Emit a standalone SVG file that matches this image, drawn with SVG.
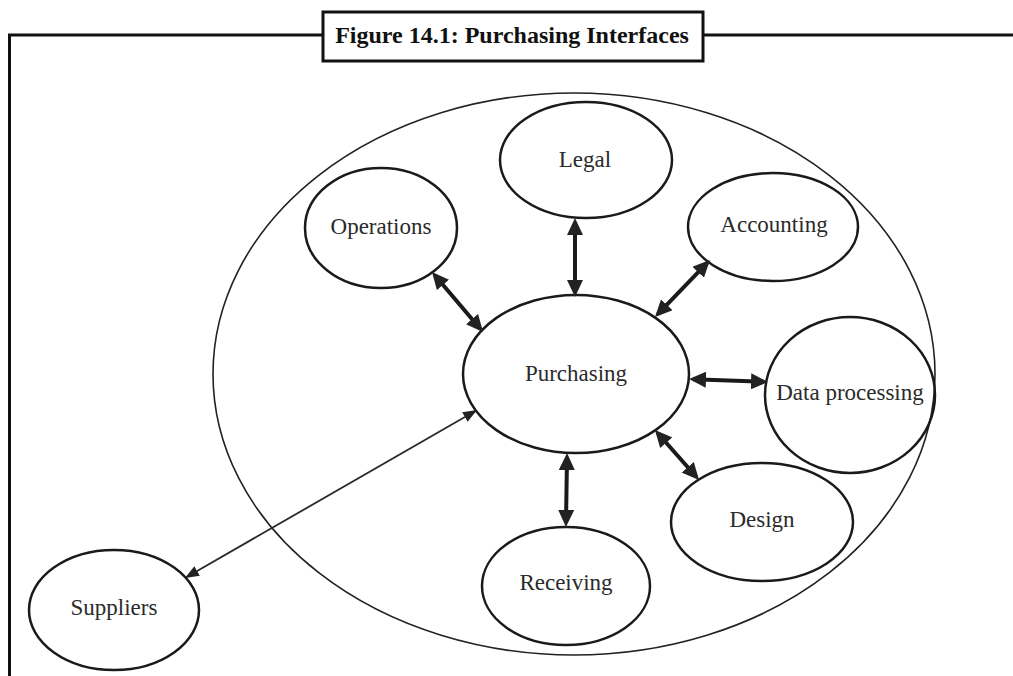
<svg xmlns="http://www.w3.org/2000/svg" width="1013" height="676" viewBox="0 0 1013 676">
<style>
.node{fill:none;stroke:#1a1a1a;stroke-width:2.5}
.lbl{font-family:"Liberation Serif","DejaVu Serif",serif;font-size:23px;fill:#2a2a2a;text-anchor:middle}
.thick{stroke:#1a1a1a;stroke-width:4;fill:none;marker-start:url(#ah);marker-end:url(#ah)}
.thin{stroke:#2a2a2a;stroke-width:1.8;fill:none;marker-start:url(#ahs);marker-end:url(#ahs)}
</style>
<defs>
<marker id="ah" viewBox="0 0 17 16" markerWidth="17" markerHeight="16" refX="13" refY="8" markerUnits="userSpaceOnUse" orient="auto-start-reverse">
<path d="M0,0 L17,8 L0,16 Z" fill="#222"/>
</marker>
<marker id="ahs" viewBox="0 0 14 11" markerWidth="14" markerHeight="11" refX="12" refY="5.5" markerUnits="userSpaceOnUse" orient="auto-start-reverse">
<path d="M0,0 L14,5.5 L0,11 Z" fill="#222"/>
</marker>
</defs>
<rect width="1013" height="676" fill="#fff"/>
<g id="frame">
<polyline points="9.5,676 9.5,35 1013,35" fill="none" stroke="#111" stroke-width="3"/>
<rect x="323" y="12" width="380" height="49" fill="#fff" stroke="#111" stroke-width="3"/>
<text x="512" y="43" font-family="Liberation Serif,serif" font-weight="bold" font-size="24" fill="#111" text-anchor="middle">Figure 14.1: Purchasing Interfaces</text>
</g>
<g id="boundary">
<ellipse cx="574" cy="374" rx="361" ry="281" fill="none" stroke="#222" stroke-width="1.6"/>
</g>
<g id="purchasing"><ellipse class="node" cx="576" cy="374" rx="113" ry="79"/><text class="lbl" x="576" y="381">Purchasing</text></g>
<g id="legal"><ellipse class="node" cx="586" cy="160" rx="86" ry="58"/><text class="lbl" x="585" y="167">Legal</text></g>
<g id="operations"><ellipse class="node" cx="381" cy="228" rx="76" ry="60"/><text class="lbl" x="381" y="234">Operations</text></g>
<g id="accounting"><ellipse class="node" cx="773" cy="227" rx="85" ry="54"/><text class="lbl" x="774" y="232">Accounting</text></g>
<g id="data-processing"><ellipse class="node" cx="850" cy="395" rx="85" ry="78"/><text class="lbl" x="850" y="400">Data processing</text></g>
<g id="design"><ellipse class="node" cx="762" cy="522" rx="91" ry="59"/><text class="lbl" x="762" y="527">Design</text></g>
<g id="receiving"><ellipse class="node" cx="566" cy="586" rx="84" ry="59"/><text class="lbl" x="566" y="590">Receiving</text></g>
<g id="suppliers"><ellipse class="node" cx="114" cy="610" rx="85" ry="60"/><text class="lbl" x="114" y="615">Suppliers</text></g>
<g id="connectors">
<line class="thick" x1="575" y1="222" x2="575" y2="293"/>
<line class="thick" x1="434.6" y1="275" x2="480.4" y2="329"/>
<line class="thick" x1="707.2" y1="262.9" x2="657.8" y2="314.1"/>
<line class="thick" x1="693" y1="379.2" x2="764" y2="381.8"/>
<line class="thick" x1="657.6" y1="433" x2="696.4" y2="477"/>
<line class="thick" x1="567" y1="457" x2="566" y2="523"/>
<line class="thin" x1="186.7" y1="577" x2="475.3" y2="411"/>
</g>
</svg>
